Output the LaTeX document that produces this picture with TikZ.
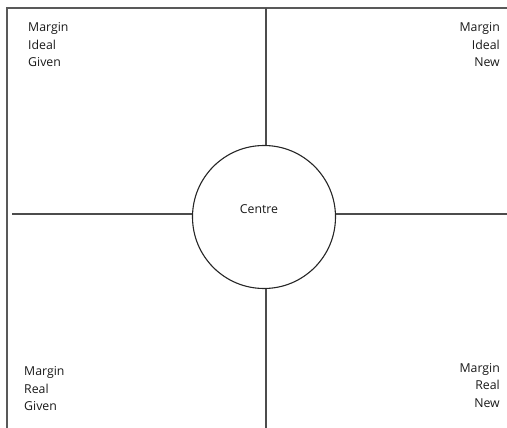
\documentclass[tikz,border=0pt]{standalone}
\usepackage{fontspec}
\setmainfont{Open Sans}
\usetikzlibrary{positioning}

\begin{document}
\begin{tikzpicture}[
    x=1pt, y=-1pt,
    frame/.style={draw=black!65, line width=1.8pt},
    axis/.style={draw=black!70, line width=1.6pt},
    centrenode/.style={circle, draw=black!85, line width=1.1pt, minimum size=143pt, inner sep=0pt},
    quad/.style={inner sep=0pt, text=black!90, font=\fontsize{12.3}{17.5}\selectfont}
]
\useasboundingbox (0,0) rectangle (507,428);

% Frame (top and left edges only)
\coordinate (tl) at (7,8);
\coordinate (tr) at (507,8);
\coordinate (bl) at (7,428);
\draw[frame] (tr) -- (tl) -- (bl);

% Centre
\node[centrenode] (centre) at (264,217) {};
\node[quad, anchor=base] (centrelabel) at (259,214) {Centre};

% Axes
\coordinate (top) at (266,8);
\coordinate (bottom) at (266,428);
\coordinate (left) at (12,214);
\coordinate (right) at (507,214);
\draw[axis] (top) -- (top |- centre.north);
\draw[axis] (bottom |- centre.south) -- (bottom);
\draw[axis] (left) -- (left -| centre.west);
\draw[axis] (right -| centre.east) -- (right);

% Quadrant labels
\node[quad, anchor=north west, align=left] (idealgiven) at (28,22.5) {Margin\\Ideal\\Given};
\node[quad, anchor=north east, align=right] (idealnew) at (500,22.5) {Margin\\Ideal\\New};
\node[quad, anchor=north west, align=left] (realgiven) at (24,366.5) {Margin\\Real\\Given};
\node[quad, anchor=north east, align=right] (realnew) at (500,363) {Margin\\Real\\New};

\end{tikzpicture}
\end{document}
